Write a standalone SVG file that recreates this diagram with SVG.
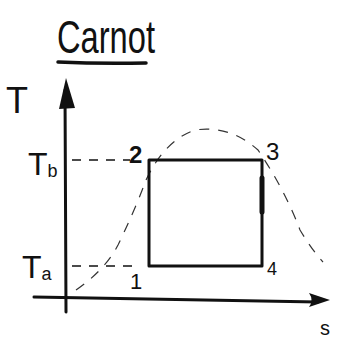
<svg xmlns="http://www.w3.org/2000/svg" width="338" height="338" viewBox="0 0 338 338">
<style>
.ink{stroke:#111;fill:none;stroke-linecap:round;stroke-linejoin:round}
.txt{font-family:"Liberation Sans",Arial,sans-serif;fill:#111}
.dash{stroke:#111;fill:none;stroke-width:1.6;stroke-dasharray:9 8}
.dome{stroke:#333;fill:none;stroke-width:1.2;stroke-dasharray:10 9}
</style>
<rect width="338" height="338" fill="#fff"/>
<g id="title">
<text class="txt" x="57" y="53" font-size="46" textLength="98" lengthAdjust="spacingAndGlyphs">Carnot</text>
<path class="ink" d="M58 62 Q100 64 146 63" stroke-width="3.5"/>
</g>
<g id="axes">
<path class="ink" d="M65 90 L66 312" stroke-width="3"/>
<path d="M59 109 L66 78 L75 108 Z" fill="#111"/>
<path class="ink" d="M34 297 L318 302" stroke-width="3"/>
<path d="M309 293 L330 300 L309 307 Q314 300 309 293 Z" fill="#111"/>
<text class="txt" x="6" y="113" font-size="36">T</text>
<text class="txt" x="320" y="335" font-size="20">s</text>
</g>
<g id="labels">
<text class="txt" x="28" y="175" font-size="32">T<tspan font-size="18" dy="2">b</tspan></text>
<text class="txt" x="22" y="278" font-size="32">T<tspan font-size="18" dy="2">a</tspan></text>
</g>
<g id="connectors">
<path class="dash" d="M72 160 L130 160"/>
<path class="dash" d="M72 266 L140 266"/>
<path class="dome" d="M76 290 Q105 270 118 245 Q135 210 146 180 Q165 140 195 130 Q230 125 258 150 Q285 190 300 230 Q312 250 323 262"/>
</g>
<g id="cycle">
<path class="ink" d="M149 266 L149 160 L262 160 L262 266 Z" stroke-width="3"/>
<path class="ink" d="M262 212 L262 178" stroke-width="5"/>
</g>
<g id="state-1"><text class="txt" x="130" y="289" font-size="22">1</text></g>
<g id="state-2"><text class="txt" x="129" y="163" font-size="24" font-weight="bold">2</text></g>
<g id="state-3"><text class="txt" x="266" y="160" font-size="24">3</text></g>
<g id="state-4"><text class="txt" x="267" y="275" font-size="18">4</text></g>
</svg>
